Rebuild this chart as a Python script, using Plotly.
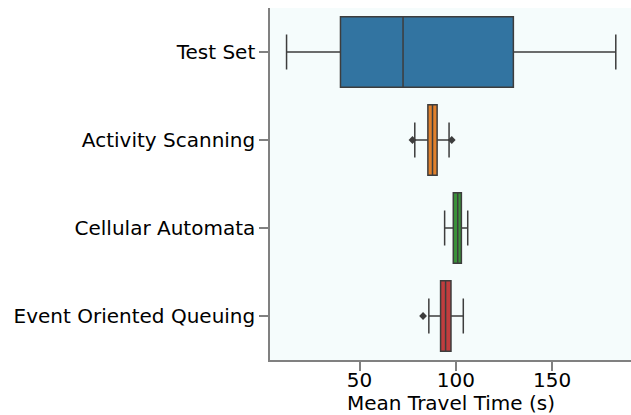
import plotly.graph_objects as go

categories = ["Test Set", "Activity Scanning", "Cellular Automata", "Event Oriented Queuing"]
lower_fence = [12.1, 78.7, 94.2, 86.0]
q1 = [40.1, 85.5, 98.7, 92.1]
median = [72.6, 87.9, 101.0, 94.7]
q3 = [129.9, 90.3, 102.9, 97.5]
upper_fence = [183.1, 96.5, 106.2, 103.9]
outlier_cat = ["Activity Scanning", "Activity Scanning", "Event Oriented Queuing"]
outlier_val = [77.5, 97.9, 83.0]
colors = ["#3274a1", "#e1812c", "#3a923a", "#c03d3e"]
line_color = "#3d3d3d"
x_title = "Mean Travel Time (s)"

fig = go.Figure()
for i, cat in enumerate(categories):
    fig.add_trace(go.Box(
        y=[cat], q1=[q1[i]], median=[median[i]], q3=[q3[i]],
        lowerfence=[lower_fence[i]], upperfence=[upper_fence[i]],
        orientation="h", fillcolor=colors[i],
        line=dict(color=line_color, width=1.5),
        width=0.8, whiskerwidth=0.5, boxpoints=False,
        showlegend=False, hoverinfo="skip",
    ))
fig.add_trace(go.Scatter(
    x=outlier_val, y=outlier_cat, mode="markers",
    marker=dict(symbol="diamond", size=6, color=line_color),
    showlegend=False, hoverinfo="skip",
))

font = "DejaVu Sans"
fig.update_layout(
    width=631, height=415,
    margin=dict(l=270, r=0, t=8, b=55),
    paper_bgcolor="white", plot_bgcolor="#f5fcfc",
    boxmode="overlay",
    font=dict(family=font, size=20, color="black"),
    annotations=[dict(
        text=x_title, xref="paper", yref="paper", x=0.5, y=-0.123,
        xanchor="center", yanchor="middle", showarrow=False,
        font=dict(family=font, size=20, color="black"),
    )],
)
fig.update_xaxes(
    range=[3.5, 191], tickvals=[50, 100, 150], showgrid=False, zeroline=False,
    showline=True, linecolor="#808080", linewidth=1.5,
    ticks="outside", ticklen=9, tickwidth=1.5, tickcolor="#808080",
    tickfont=dict(size=20), automargin=False, ticklabelstandoff=-8,
)
fig.update_yaxes(
    categoryorder="array", categoryarray=categories,
    range=[3.5, -0.5], autorange=False, showgrid=False, zeroline=False,
    showline=True, linecolor="#808080", linewidth=1.5,
    ticks="outside", ticklen=9, tickwidth=1.5, tickcolor="#808080",
    tickfont=dict(size=20), automargin=False,
)
fig.write_html("out.html")
